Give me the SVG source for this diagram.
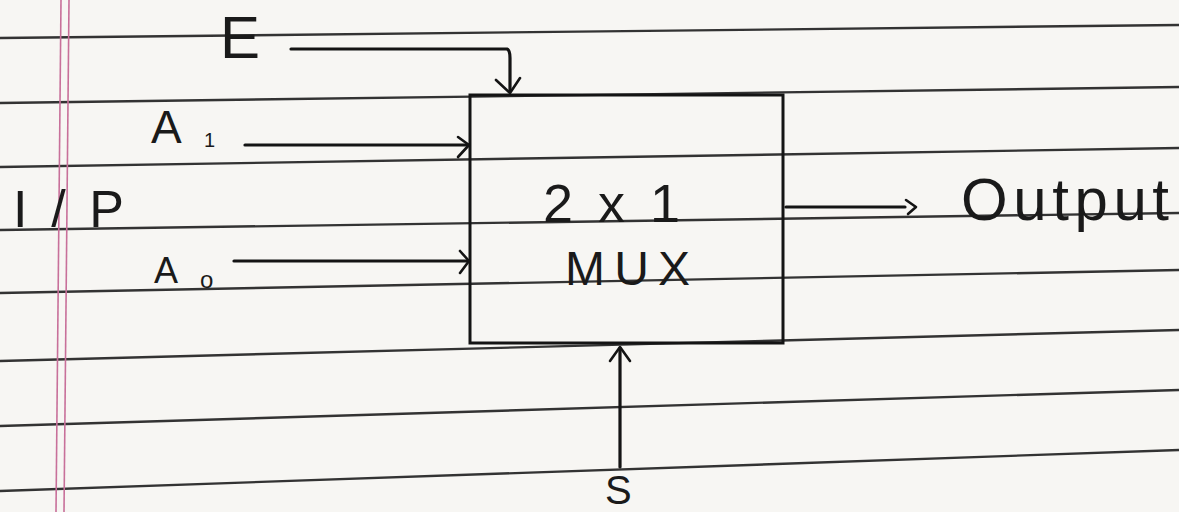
<svg xmlns="http://www.w3.org/2000/svg" width="1179" height="512" viewBox="0 0 1179 512">
<defs>
<style>
.rule{stroke:#333333;stroke-width:2.4;fill:none}
.margin{stroke:#c8709a;stroke-width:1.6;fill:none}
.wire{stroke:#141414;stroke-width:3.2;fill:none;stroke-linecap:round;stroke-linejoin:round}
.head{stroke:#141414;stroke-width:2.6;fill:none;stroke-linecap:round;stroke-linejoin:round}
.box{stroke:#141414;stroke-width:3;fill:none}
.t{font-family:"Liberation Sans","DejaVu Sans",sans-serif;fill:#1a1a1a}
</style>
</defs>
<rect x="0" y="0" width="1179" height="512" fill="#f7f6f3"/>
<g id="paper">
<line class="rule" x1="0" y1="38" x2="1179" y2="25"/>
<line class="rule" x1="0" y1="103" x2="1179" y2="87"/>
<line class="rule" x1="0" y1="167" x2="1179" y2="148"/>
<line class="rule" x1="0" y1="230" x2="1179" y2="213"/>
<line class="rule" x1="0" y1="293" x2="1179" y2="270"/>
<line class="rule" x1="0" y1="361" x2="1179" y2="330"/>
<line class="rule" x1="0" y1="426" x2="1179" y2="390"/>
<line class="rule" x1="0" y1="491" x2="1179" y2="450"/>
<line class="margin" x1="61" y1="0" x2="56" y2="512"/>
<line class="margin" x1="69" y1="0" x2="64" y2="512"/>
</g>
<g id="mux">
<rect class="box" x="470" y="95" width="313" height="248"/>
<text class="t" x="543" y="222" font-size="54" textLength="137" lengthAdjust="spacing">2 x 1</text>
<text class="t" x="565" y="285" font-size="48" textLength="125" lengthAdjust="spacing">MUX</text>
</g>
<g id="label-E"><text class="t" x="220" y="58" font-size="60">E</text></g>
<g id="label-A1"><text class="t" x="151" y="143" font-size="46">A</text><text class="t" x="204" y="147" font-size="20">1</text></g>
<g id="label-IP"><text class="t" x="13" y="227" font-size="52" textLength="111" lengthAdjust="spacing">I/P</text></g>
<g id="label-A0"><text class="t" x="154" y="283" font-size="36">A</text><text class="t" x="200" y="288" font-size="24">o</text></g>
<g id="label-S"><text class="t" x="605" y="504" font-size="40">S</text></g>
<g id="label-output"><text class="t" x="961" y="220" font-size="60" textLength="208" lengthAdjust="spacing">Output</text></g>
<g id="connectors">
<path class="wire" d="M291 49 L507 49 Q510 50 510 58 L510 91"/>
<path class="head" d="M496 80 L510 93 L520 78"/>
<path class="wire" d="M245 145 L468 145"/>
<path class="head" d="M458 137 L469 145 L458 157"/>
<path class="wire" d="M234 261 L468 261"/>
<path class="head" d="M460 251 L469 261 L460 273"/>
<path class="wire" d="M620 467 L620 348"/>
<path class="head" d="M610 361 L620 347 L630 361"/>
<path class="wire" d="M786 207 L905 207"/>
<path class="head" d="M906 200 L916 207 L908 214"/>
</g>
</svg>
